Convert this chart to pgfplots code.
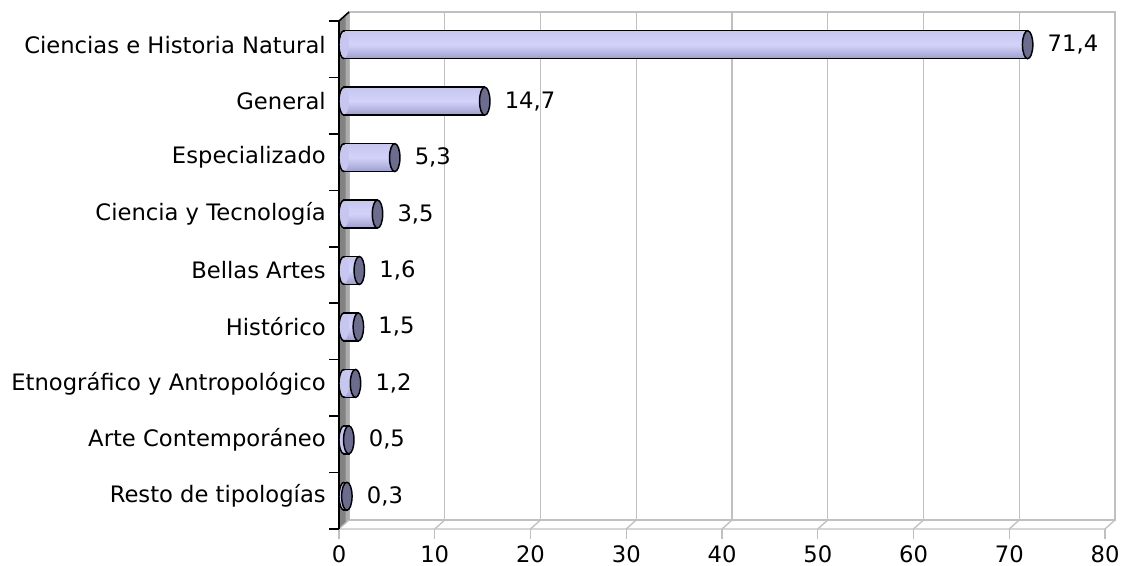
\documentclass[border=0pt]{standalone}
\usepackage{fontspec}
\setmainfont{DejaVu Sans}
\usepackage{pgfplots}
\usepackage{pgfplotstable}
\pgfplotsset{compat=1.18}
\definecolor{gridc}{RGB}{192,192,192}
\definecolor{barTop}{RGB}{198,198,240}
\definecolor{barMid}{RGB}{210,210,250}
\definecolor{barBot}{RGB}{158,158,206}
\definecolor{capc}{RGB}{108,108,142}
\definecolor{wallc}{RGB}{130,130,130}
\pgfdeclareplotmark{lcap}{%
  \pgfpathellipse{\pgfpointorigin}{\pgfpoint{3.75pt}{0pt}}{\pgfpoint{0pt}{9.9pt}}%
  \pgfusepathqfill
  \pgfpathmoveto{\pgfpoint{0pt}{10.5pt}}%
  \pgfpatharc{90}{270}{3.75pt and 10.5pt}%
  \pgfusepathqstroke
}
\pgfdeclareplotmark{rcap}{%
  \pgfpathellipse{\pgfpointorigin}{\pgfpoint{3.9pt}{0pt}}{\pgfpoint{0pt}{10.5pt}}%
  \pgfusepathqfillstroke
}
\pgfplotstableread{
y v b
0 71.4 0
1 14.7 0
2 5.3 0
3 3.5 0
4 1.6 0
5 1.5 0
6 1.2 0
7 0.5 0
8 0.3 0
}\datatab
\pgfplotsset{cylbar/.style={xbar, bar shift=0pt, draw=black, line width=1.1pt, top color=barTop, bottom color=barBot, middle color=barMid}}
\begin{document}
\begin{tikzpicture}[font=\fontsize{17}{20}\selectfont]
\useasboundingbox (0,0) rectangle (841.5pt,424.5pt);
% back wall
\begin{axis}[at={(261.75pt,34.5pt)}, anchor=south west, scale only axis,
  width=574.5pt, height=381pt, xmin=0, xmax=80, ymin=-0.5, ymax=8.5,
  y dir=reverse, axis line style={gridc, line width=1pt},
  xtick={0,10,...,80}, ytick=\empty, xticklabels={}, xtick style={draw=none},
  xmajorgrids, grid style={gridc, line width=1pt}]
\addplot[draw=none] coordinates {(0,0)};
\end{axis}
% front plane: wall, floor, ticks and x labels
\begin{axis}[at={(254.25pt,27.75pt)}, anchor=south west, scale only axis,
  width=574.5pt, height=381pt, xmin=0, xmax=80, ymin=-0.5, ymax=8.5,
  y dir=reverse, clip=false, axis line style={draw=none},
  xtick={0,10,...,80}, ytick={-0.5,0.5,...,8.5}, yticklabels={},
  tick align=outside, major tick length=7.5pt, xtick pos=left, ytick pos=left,
  xtick style={gridc, line width=1pt}, ytick style={black, line width=1.1pt},
  xticklabel style={font=\fontsize{17}{20}\selectfont, inner sep=1.5pt, yshift=-3pt},
  /pgf/number format/assume math mode=true]
\addplot[draw=none] coordinates {(0,0)};
\fill[wallc] (axis cs:0,-0.5) -- ([shift={(7.5pt,6.75pt)}]axis cs:0,-0.5) -- ([shift={(7.5pt,6.75pt)}]axis cs:0,8.5) -- (axis cs:0,8.5) -- cycle;
\fill[gray!65] ([shift={(5pt,4.5pt)}]axis cs:0,8.5) -- ([shift={(7.5pt,6.75pt)}]axis cs:0,8.5) -- ([shift={(7.5pt,6.75pt)}]axis cs:0,-0.5) -- ([shift={(5pt,4.5pt)}]axis cs:0,-0.5) -- cycle;
\draw[gridc, line width=1pt] (axis cs:0,8.5) -- (axis cs:80,8.5) -- ([shift={(7.5pt,6.75pt)}]axis cs:80,8.5);
\pgfplotsinvokeforeach{10,20,...,70}{
  \draw[gridc, line width=1pt] (axis cs:#1,8.5) -- ([shift={(7.5pt,6.75pt)}]axis cs:#1,8.5);
}
\draw[gridc, line width=1pt] ([shift={(7.5pt,6.75pt)}]axis cs:0,8.5) -- (axis cs:0,8.5);
\draw[black, line width=1.2pt] ([shift={(7.5pt,6.75pt)}]axis cs:0,-0.5) -- (axis cs:0,-0.5) -- (axis cs:0,8.5);
\end{axis}
% bars at mid depth
\begin{axis}[at={(258pt,31.125pt)}, anchor=south west, scale only axis,
  width=574.5pt, height=381pt, xmin=0, xmax=80, ymin=-0.5, ymax=8.5,
  y dir=reverse, clip=false, axis line style={draw=none},
  xtick=\empty, ytick={0,...,8}, major tick length=0pt, ytick style={draw=none},
  yticklabels={Ciencias e Historia Natural, General, Especializado, Ciencia y Tecnología, Bellas Artes, Histórico, Etnográfico y Antropológico, Arte Contemporáneo, Resto de tipologías},
  yticklabel style={font=\fontsize{17}{20}\selectfont, inner sep=0pt, anchor=east, xshift=-13.5pt},
  bar width=21pt]
\addplot[cylbar] coordinates {(71.4,0)};
\addplot[cylbar] coordinates {(14.7,1)};
\addplot[cylbar] coordinates {(5.3,2)};
\addplot[cylbar] coordinates {(3.5,3)};
\addplot[cylbar] coordinates {(1.6,4)};
\addplot[cylbar] coordinates {(1.5,5)};
\addplot[cylbar] coordinates {(1.2,6)};
\addplot[cylbar] coordinates {(0.5,7)};
\addplot[cylbar] coordinates {(0.3,8)};
\addplot[only marks, mark=lcap, mark options={fill=barTop, draw=black, line width=1.1pt}] table[x=b, y=y] {\datatab};
\addplot[only marks, mark=rcap, mark options={fill=capc, draw=black, line width=1.1pt},
  point meta=x, nodes near coords,
  nodes near coords style={anchor=west, xshift=14.5pt, inner sep=0pt, text=black, font=\fontsize{17}{20}\selectfont,
    /pgf/number format/.cd, use comma, fixed, fixed zerofill, precision=1, assume math mode=true}]
  table[x=v, y=y] {\datatab};
\end{axis}
\end{tikzpicture}
\end{document}
